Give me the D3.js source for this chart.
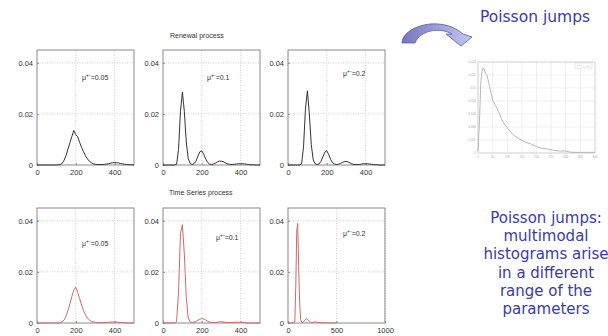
<!DOCTYPE html>
<html>
<head>
<meta charset="utf-8">
<script src="https://cdn.jsdelivr.net/npm/d3@7"></script>
<style>
  body { margin: 0; background: #fff; }
  svg { display: block; }
  .lbl { font-family: 'Liberation Sans', Arial, sans-serif; font-size: 7.5px; fill: #333; }
  .blue { font-family: 'Comic Sans MS', 'DejaVu Sans', sans-serif; fill: #3b3ba6; }
</style>
</head>
<body>
<svg id="chart" width="608" height="336"></svg>
<script>
// histogram bins (left panels), step 10
const bins = [0, 10, 20, 30, 40, 50, 60, 70, 80, 90,
  100, 110, 120, 130, 140, 150, 160, 170, 180, 190,
  200, 210, 220, 230, 240, 250, 260, 270, 280, 290,
  300, 310, 320, 330, 340, 350, 360, 370, 380, 390,
  400, 410, 420, 430, 440, 450, 460, 470, 480, 490, 500];

// renewal process
const renewal005 = [0, 0, 0, 0, 0, 0, 0, 0, 0, 0,
  0, 0.0001, 0.0002, 0.0007, 0.0019, 0.0038, 0.0063, 0.0088, 0.0112, 0.0135,
  0.0118, 0.0110, 0.0088, 0.0069, 0.0052, 0.0036, 0.0024, 0.0015, 0.0009, 0.0005,
  0.0003, 0.0002, 0.0002, 0.0002, 0.0002, 0.0003, 0.0004, 0.0005, 0.0007, 0.0009,
  0.0010, 0.0009, 0.0008, 0.0006, 0.0005, 0.0003, 0.0002, 0.0002, 0.0001, 0.0001, 0];
const renewal01 = [0, 0, 0, 0, 0, 0, 0, 0.0003, 0.0060, 0.0210,
  0.0285, 0.0210, 0.0090, 0.0025, 0.0006, 0.0002, 0.0005, 0.0015, 0.0035, 0.0052,
  0.0055, 0.0042, 0.0024, 0.0010, 0.0004, 0.0002, 0.0003, 0.0007, 0.0012, 0.0015,
  0.0015, 0.0013, 0.0009, 0.0005, 0.0003, 0.0002, 0.0002, 0.0003, 0.0004, 0.0005,
  0.0005, 0.0005, 0.0004, 0.0003, 0.0002, 0.0001, 0.0001, 0.0001, 0, 0, 0];
const renewal02 = [0, 0, 0, 0, 0, 0, 0, 0.0005, 0.0070, 0.0220,
  0.0290, 0.0200, 0.0080, 0.0020, 0.0005, 0.0002, 0.0004, 0.0014, 0.0032, 0.0050,
  0.0056, 0.0040, 0.0022, 0.0009, 0.0004, 0.0002, 0.0003, 0.0006, 0.0010, 0.0013,
  0.0014, 0.0012, 0.0008, 0.0004, 0.0002, 0.0002, 0.0002, 0.0002, 0.0004, 0.0005,
  0.0005, 0.0005, 0.0004, 0.0003, 0.0002, 0.0001, 0.0001, 0, 0, 0, 0];

// time series process
const series005 = [0, 0, 0, 0, 0, 0, 0, 0, 0, 0,
  0, 0, 0.0001, 0.0005, 0.0012, 0.0028, 0.0050, 0.0075, 0.0105, 0.0130,
  0.0140, 0.0120, 0.0095, 0.0070, 0.0048, 0.0032, 0.0020, 0.0012, 0.0007, 0.0004,
  0.0003, 0.0002, 0.0001, 0.0001, 0.0001, 0.0002, 0.0002, 0.0003, 0.0004, 0.0004,
  0.0004, 0.0004, 0.0003, 0.0002, 0.0002, 0.0001, 0.0001, 0, 0, 0, 0];
const series01 = [0, 0, 0, 0, 0, 0, 0, 0.0005, 0.0120, 0.0350,
  0.0385, 0.0270, 0.0100, 0.0020, 0.0004, 0.0002, 0.0003, 0.0006, 0.0011, 0.0015,
  0.0017, 0.0016, 0.0012, 0.0007, 0.0004, 0.0002, 0.0002, 0.0002, 0.0003, 0.0004,
  0.0005, 0.0004, 0.0003, 0.0002, 0.0002, 0.0002, 0.0002, 0.0003, 0.0003, 0.0003,
  0.0003, 0.0002, 0.0002, 0.0001, 0, 0, 0, 0, 0, 0, 0];
const series02 = [0, 0, 0, 0, 0, 0, 0, 0.0003, 0.0140, 0.0360,
  0.0390, 0.0220, 0.0080, 0.0015, 0.0003, 0.0002, 0.0004, 0.0009, 0.0014, 0.0016,
  0.0015, 0.0011, 0.0007, 0.0004, 0.0002, 0.0002, 0.0003, 0.0004, 0.0004, 0.0004,
  0.0003, 0.0002, 0.0002, 0.0002, 0.0001, 0.0001, 0.0001, 0.0001, 0.0001, 0.0001,
  0.0001, 0.0001, 0.0001, 0, 0, 0, 0, 0, 0, 0, 0];

const xTicks500 = [0, 200, 400];
const xTicks1000 = [0, 500, 1000];
const yTicks = [0, 0.02, 0.04];

// small inset (Poisson jumps)
const insetX = [0, 5, 10, 15, 20, 25, 30, 35, 40, 45, 50, 60, 70, 80, 90, 100,
  120, 140, 160, 180, 200, 220, 240, 260, 280, 300, 320, 350, 400];
const insetY = [0.0003, 0.0049, 0.0112, 0.0130, 0.0130, 0.0123, 0.0120, 0.0112, 0.0101, 0.0091,
  0.0081, 0.0073, 0.0064, 0.0053, 0.0045, 0.0039, 0.0028, 0.0022, 0.0017, 0.0014,
  0.0010, 0.0007, 0.0006, 0.0004, 0.0003, 0.0003, 0.0001, 0.0001, 0.0001];
const insetXTicks = [0, 50, 100, 150, 200, 250, 300, 350, 400];
const insetYTicks = [0, 0.002, 0.004, 0.006, 0.008, 0.01, 0.012, 0.014];

const noteLines = ['Poisson jumps:', 'multimodal', 'histograms arise',
  'in a different', 'range of the', 'parameters'];

const svg = d3.select('#chart');
const colX = [37, 163, 288];
const rowY = [50, 208];
const panelW = 97;
const panelH = 115;
const yMax = 0.045;

const panels = [
  { data: renewal005, mu: '0.05', col: 0, row: 0, xMax: 500, ticks: xTicks500, color: '#333', note: [45, 29.5] },
  { data: renewal01, mu: '0.1', col: 1, row: 0, xMax: 500, ticks: xTicks500, color: '#333', note: [44, 29.5] },
  { data: renewal02, mu: '0.2', col: 2, row: 0, xMax: 500, ticks: xTicks500, color: '#333', note: [55, 25.5] },
  { data: series005, mu: '0.05', col: 0, row: 1, xMax: 500, ticks: xTicks500, color: '#d26868', note: [45, 37.5] },
  { data: series01, mu: '0.1', col: 1, row: 1, xMax: 500, ticks: xTicks500, color: '#d26868', note: [53, 31.5] },
  { data: series02, mu: '0.2', col: 2, row: 1, xMax: 1000, ticks: xTicks1000, color: '#d26868', note: [55, 27.5] }
];

const fmtY = (d) => d === 0 ? '0' : d3.format('.2f')(d);

function drawPanel(p) {
  const left = colX[p.col];
  const top = rowY[p.row];
  const x = d3.scaleLinear().domain([0, p.xMax]).range([left, left + panelW]);
  const y = d3.scaleLinear().domain([0, yMax]).range([top + panelH, top]);
  const g = svg.append('g');

  // dotted grid
  g.selectAll('line.gx').data(p.ticks.slice(1)).enter().append('line')
    .attr('x1', (d) => x(d)).attr('x2', (d) => x(d))
    .attr('y1', top).attr('y2', top + panelH)
    .attr('stroke', '#c4c4c4').attr('stroke-width', 0.8).attr('stroke-dasharray', '1,1.5');
  g.selectAll('line.gy').data(yTicks.slice(1)).enter().append('line')
    .attr('x1', left).attr('x2', left + panelW)
    .attr('y1', (d) => y(d)).attr('y2', (d) => y(d))
    .attr('stroke', '#c4c4c4').attr('stroke-width', 0.8).attr('stroke-dasharray', '1,1.5');

  // axes
  g.append('g').attr('transform', 'translate(0,' + (top + panelH) + ')')
    .call(d3.axisBottom(x).tickValues(p.ticks).tickSize(-2).tickPadding(5).tickFormat(d3.format('d')))
    .call((a) => a.select('.domain').remove())
    .call((a) => a.selectAll('line').attr('stroke', '#888'))
    .call((a) => a.selectAll('text').attr('class', 'lbl').attr('font-size', null).attr('font-family', null));
  g.append('g').attr('transform', 'translate(' + left + ',0)')
    .call(d3.axisLeft(y).tickValues(yTicks).tickSize(-2).tickPadding(4).tickFormat(fmtY))
    .call((a) => a.select('.domain').remove())
    .call((a) => a.selectAll('line').attr('stroke', '#888'))
    .call((a) => a.selectAll('text').attr('class', 'lbl').attr('font-size', null).attr('font-family', null));

  g.append('rect')
    .attr('x', left).attr('y', top).attr('width', panelW).attr('height', panelH)
    .attr('fill', 'none').attr('stroke', '#8a8a8a').attr('stroke-width', 1);

  const line = d3.line()
    .x((d, i) => x(bins[i]))
    .y((d) => y(d));
  g.append('path').datum(p.data)
    .attr('d', line)
    .attr('fill', 'none')
    .attr('stroke', p.color)
    .attr('stroke-width', 1);

  const t = g.append('text').attr('class', 'lbl')
    .attr('x', left + p.note[0]).attr('y', top + p.note[1]).style('font-size', '7px');
  t.append('tspan').text('μ');
  t.append('tspan').attr('dy', -3).style('font-size', '5px').text('+-');
  t.append('tspan').attr('dy', 3).text('=' + p.mu);
}

panels.forEach(drawPanel);

svg.append('text').attr('class', 'lbl').attr('x', 170).attr('y', 38)
  .style('font-size', '7px').text('Renewal process');
svg.append('text').attr('class', 'lbl').attr('x', 169).attr('y', 195)
  .style('font-size', '7px').text('Time Series process');

// curved arrow
const defs = svg.append('defs');
const grad = defs.append('linearGradient').attr('id', 'arrowGrad')
  .attr('x1', '0').attr('y1', '0').attr('x2', '1').attr('y2', '0');
grad.append('stop').attr('offset', '0%').attr('stop-color', '#7676c0');
grad.append('stop').attr('offset', '100%').attr('stop-color', '#c2c8f0');
svg.append('path')
  .attr('d', 'M402,43 C402,27 440,14 463,34 L472,37 L461,46 L446,34 L452,34 C440,27 420,30 415,43 Z')
  .attr('fill', 'url(#arrowGrad)')
  .attr('stroke', '#5a5aa8')
  .attr('stroke-width', 0.8);

svg.append('text').attr('class', 'blue').attr('x', 535).attr('y', 22)
  .attr('text-anchor', 'middle').style('font-size', '15.5px').text('Poisson jumps');

// inset
const ix = d3.scaleLinear().domain([0, 400]).range([478, 595]);
const iy = d3.scaleLinear().domain([0, 0.014]).range([153, 62]);
const inset = svg.append('g');
inset.selectAll('line.vx').data(insetXTicks).enter().append('line')
  .attr('x1', (d) => ix(d)).attr('x2', (d) => ix(d)).attr('y1', 62).attr('y2', 153)
  .attr('stroke', '#e6e6e6').attr('stroke-width', 0.6);
inset.selectAll('line.vy').data(insetYTicks).enter().append('line')
  .attr('x1', 478).attr('x2', 595).attr('y1', (d) => iy(d)).attr('y2', (d) => iy(d))
  .attr('stroke', '#e6e6e6').attr('stroke-width', 0.6);
inset.append('rect').attr('x', 478).attr('y', 62).attr('width', 117).attr('height', 91)
  .attr('fill', 'none').attr('stroke', '#c8c8c8').attr('stroke-width', 0.7);
inset.append('path').datum(insetY)
  .attr('d', d3.line().x((d, i) => ix(insetX[i])).y((d) => iy(d)))
  .attr('fill', 'none').attr('stroke', '#b0b0b0').attr('stroke-width', 0.9);
inset.selectAll('text.ixl').data(insetXTicks).enter().append('text')
  .attr('x', (d) => ix(d)).attr('y', 158).attr('text-anchor', 'middle')
  .style('font-size', '3px').attr('fill', '#aaa').attr('font-family', 'Liberation Sans')
  .text((d) => d);
inset.selectAll('text.iyl').data(insetYTicks).enter().append('text')
  .attr('x', 476).attr('y', (d) => iy(d) + 1).attr('text-anchor', 'end')
  .style('font-size', '3px').attr('fill', '#aaa').attr('font-family', 'Liberation Sans')
  .text((d) => d);
inset.append('rect').attr('x', 575).attr('y', 63).attr('width', 17).attr('height', 5)
  .attr('fill', '#fff').attr('stroke', '#d0d0d0').attr('stroke-width', 0.5);
inset.append('line').attr('x1', 577).attr('x2', 582).attr('y1', 65.5).attr('y2', 65.5)
  .attr('stroke', '#c0c0c0').attr('stroke-width', 0.5);
inset.append('text').attr('x', 583).attr('y', 66.5).style('font-size', '2.5px')
  .attr('fill', '#aaa').attr('font-family', 'Liberation Sans').text('λ=0.5');

// note text
svg.append('g').selectAll('text').data(noteLines).enter().append('text')
  .attr('class', 'blue')
  .attr('x', 546)
  .attr('y', (d, i) => 223 + i * 18.2)
  .attr('text-anchor', 'middle')
  .style('font-size', '15px')
  .text((d) => d);
</script>
</body>
</html>
